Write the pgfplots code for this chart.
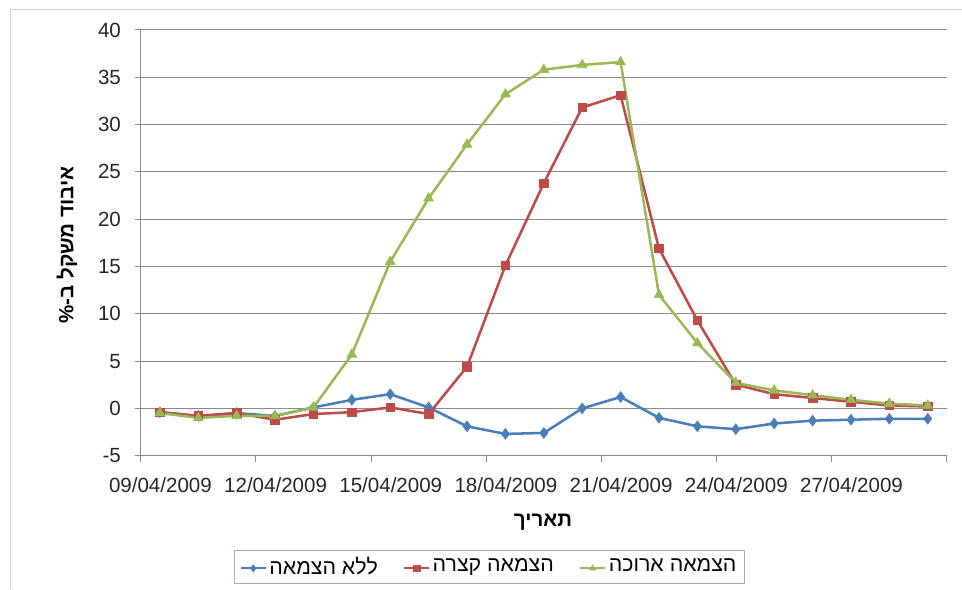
\documentclass[border=0pt]{standalone}
\usepackage{fontspec}
\setmainfont{Liberation Sans}
\newfontfamily\heb[Script=Hebrew]{Liberation Sans}
\TeXXeTstate=1
\usepackage{pgfplots}
\pgfplotsset{compat=1.18}
\definecolor{sblue}{HTML}{4A7EBB}
\definecolor{sred}{HTML}{BE4B48}
\definecolor{sgreen}{HTML}{98B954}
\definecolor{gridc}{HTML}{8C8C8C}
\definecolor{legc}{HTML}{A0AEC0}
\begin{document}
\fontsize{15.4}{18}\selectfont
\begin{tikzpicture}
\useasboundingbox (0,0) rectangle (721.5pt,441.75pt);
\draw[color=gray!35, line width=0.75pt] (7.5pt,0) -- (7.5pt,434.25pt) -- (721.5pt,434.25pt);
\begin{axis}[
  at={(105.5pt,100pt)}, anchor=south west,
  scale only axis, width=604.7pt, height=319.3pt,
  xmin=0, xmax=21, ymin=-5, ymax=40,
  ytick={-5,0,...,40},
  xtick={0,3,...,21},
  xticklabels={09/04/2009,12/04/2009,15/04/2009,18/04/2009,21/04/2009,24/04/2009,27/04/2009,{}},
  axis x line*=bottom, axis y line*=left,
  ymajorgrids,
  grid style={gridc, line width=0.75pt},
  axis line style={gridc, line width=0.75pt},
  tick style={gridc, line width=0.75pt},
  tick align=outside, major tick length=4.5pt,
  /pgf/number format/assume math mode=true,
  ticklabel style={font=\fontsize{15.4}{18}\selectfont, text=black!85},
  xticklabel style={yshift=-7pt, xshift=14.8pt},
  yticklabel style={xshift=-5pt},
  xlabel={\heb\bfseries\beginR תאריך\endR},
  ylabel={\heb\bfseries\beginR איבוד משקל ב-\%\endR},
  xlabel style={at={(0.499,-0.1557)}, anchor=center, font=\fontsize{15.4}{18}\selectfont},
  ylabel style={at={(-0.0914,0.495)}, anchor=center, font=\fontsize{15.4}{18}\selectfont},
  legend columns=3,
  legend style={at={(0.4326,-0.2615)}, anchor=center, draw=legc, line width=0.75pt,
    font=\fontsize{16}{18}\selectfont, inner xsep=4pt, inner ysep=3pt,
    /tikz/every even column/.append style={column sep=17pt}},
  legend cell align=left,
  legend image code/.code={\draw[#1, line width=1.4pt, mark size=2.6pt, mark repeat=2, mark phase=2, yshift=-1pt]
    plot coordinates {(0pt,0pt) (9.4pt,0pt) (18.8pt,0pt)};},
  every axis plot/.append style={line width=1.9pt, sharp plot},
]
\addplot[color=sblue, mark=diamond*, mark size=4pt, mark options={solid, line width=0.5pt}] coordinates {
(0.5,-0.4) (1.5,-0.8) (2.5,-0.5) (3.5,-0.8) (4.5,0.1) (5.5,0.9) (6.5,1.5)
(7.5,0.1) (8.5,-1.9) (9.5,-2.7) (10.5,-2.6) (11.5,0.0) (12.5,1.2) (13.5,-1.0)
(14.5,-1.9) (15.5,-2.2) (16.5,-1.6) (17.5,-1.3) (18.5,-1.2) (19.5,-1.1) (20.5,-1.1)};
\addlegendentry{\heb\beginR ללא הצמאה\endR}
\addplot[color=sred, mark=square*, mark size=3.2pt, mark options={solid, line width=0.5pt}] coordinates {
(0.5,-0.4) (1.5,-0.8) (2.5,-0.5) (3.5,-1.2) (4.5,-0.6) (5.5,-0.4) (6.5,0.1)
(7.5,-0.6) (8.5,4.4) (9.5,15.1) (10.5,23.8) (11.5,31.8) (12.5,33.1) (13.5,16.9)
(14.5,9.3) (15.5,2.5) (16.5,1.5) (17.5,1.1) (18.5,0.7) (19.5,0.3) (20.5,0.2)};
\addlegendentry{\heb\beginR הצמאה קצרה\endR}
\addplot[color=sgreen, mark=triangle*, mark size=4.2pt, mark options={solid, line width=0.5pt}] coordinates {
(0.5,-0.5) (1.5,-1.0) (2.5,-0.8) (3.5,-0.8) (4.5,0.1) (5.5,5.7) (6.5,15.5)
(7.5,22.2) (8.5,27.9) (9.5,33.2) (10.5,35.8) (11.5,36.3) (12.5,36.6) (13.5,12.0)
(14.5,6.9) (15.5,2.7) (16.5,1.9) (17.5,1.4) (18.5,0.9) (19.5,0.5) (20.5,0.3)};
\addlegendentry{\heb\beginR הצמאה ארוכה\endR}
\end{axis}
\end{tikzpicture}
\end{document}
